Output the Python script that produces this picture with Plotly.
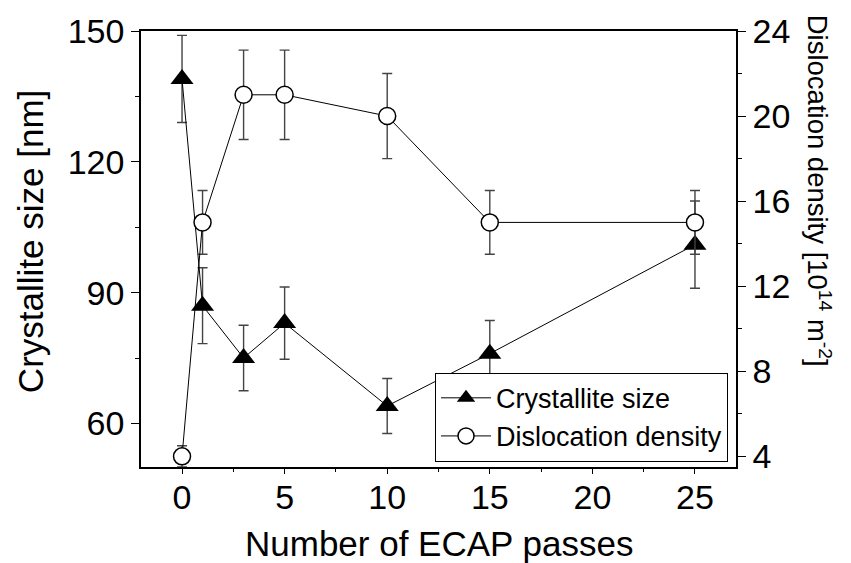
import plotly.graph_objects as go

passes = [0, 1, 3, 5, 10, 15, 25]
cryst_size = [139, 87, 75, 83, 64, 76, 101]
cryst_err = [10, 8.7, 7.5, 8.3, 6.3, 7.6, 10]
disl_dens = [4, 15, 21, 21, 20, 15, 15]
disl_err = [0.5, 1.5, 2.1, 2.1, 2.0, 1.5, 1.5]

FONT = "Liberation Sans, Arial, sans-serif"
ERRC = "#444444"

fig = go.Figure()
fig.add_trace(go.Scatter(
    x=passes, y=cryst_size, name="Crystallite size", mode="lines+markers",
    line=dict(color="black", width=1),
    marker=dict(symbol="triangle-up", size=20, color="black"),
    error_y=dict(type="data", array=cryst_err, color=ERRC, thickness=1.4, width=5),
    yaxis="y",
))
fig.add_trace(go.Scatter(
    x=passes, y=disl_dens, name="Dislocation density", mode="lines+markers",
    line=dict(color="black", width=1),
    marker=dict(symbol="circle", size=17, color="white", line=dict(color="black", width=1.5)),
    error_y=dict(type="data", array=disl_err, color=ERRC, thickness=1.4, width=5),
    yaxis="y2",
))

axis_common = dict(
    showgrid=False, zeroline=False, showline=True, linecolor="black", linewidth=1.6,
    ticks="outside", tickwidth=1.3, tickcolor="black",
    tickfont=dict(family=FONT, size=34, color="black"),
)

fig.update_layout(
    width=851, height=563,
    margin=dict(l=141, r=115, t=31, b=96),
    plot_bgcolor="white", paper_bgcolor="white",
    showlegend=True,
    legend=dict(
        x=0.9866, y=0.012, xanchor="right", yanchor="bottom",
        bgcolor="white", bordercolor="black", borderwidth=1,
        font=dict(family=FONT, size=27, color="black"),
        tracegroupgap=0, itemsizing="trace", itemwidth=50,
    ),
    xaxis=dict(
        range=[-2, 27], tick0=0, dtick=5, mirror=True, ticklen=5,
        minor=dict(dtick=2.5, ticks="outside", ticklen=3, tickwidth=1.3, tickcolor="black"),
        ticklabelstandoff=-6,
        **axis_common,
    ),
    yaxis=dict(
        range=[50, 150], tick0=0, dtick=30, ticklen=8,
        minor=dict(dtick=15, ticks="outside", ticklen=4, tickwidth=1.3, tickcolor="black"),
        **axis_common,
    ),
    yaxis2=dict(
        range=[3.5, 24], tick0=0, dtick=4, overlaying="y", side="right", ticklen=8,
        minor=dict(dtick=2, ticks="outside", ticklen=4, tickwidth=1.3, tickcolor="black"),
        **axis_common,
    ),
    annotations=[
        dict(text="Number of ECAP passes", x=0.5, y=-0.175, xref="paper", yref="paper",
             xanchor="center", yanchor="middle", showarrow=False,
             font=dict(family=FONT, size=35, color="black")),
        dict(text="Crystallite size [nm]", x=-0.1866, y=0.518, xref="paper", yref="paper",
             xanchor="center", yanchor="middle", textangle=-90, showarrow=False,
             font=dict(family=FONT, size=35, color="black")),
        dict(text="Dislocation density [10<sup>14</sup> m<sup>-2</sup>]", x=1.14, y=0.633,
             xref="paper", yref="paper", xanchor="center", yanchor="middle", textangle=90,
             showarrow=False, font=dict(family=FONT, size=27.5, color="black")),
    ],
)

fig.write_html("out.html")
